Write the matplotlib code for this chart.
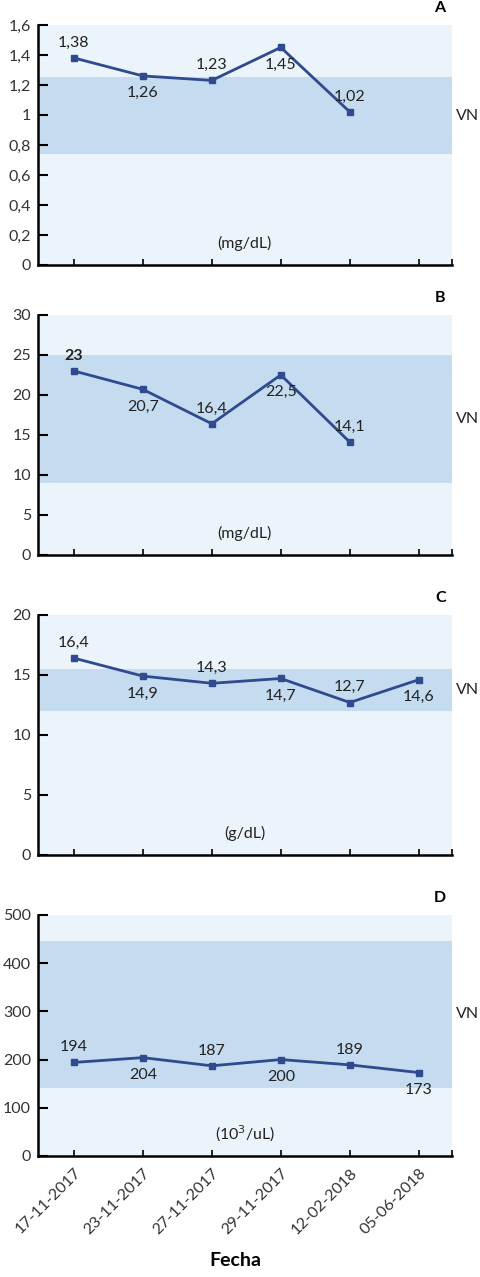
import matplotlib.pyplot as plt

plt.rcParams['font.family'] = ['Lato', 'DejaVu Sans']

fechas = ['17-11-2017', '23-11-2017', '27-11-2017', '29-11-2017', '12-02-2018', '05-06-2018']

# A
a_vals = [1.38, 1.26, 1.23, 1.45, 1.02]
a_lbls = ['1,38', '1,26', '1,23', '1,45', '1,02']
a_band = (0.74, 1.25)
a_ticks = [0, 0.2, 0.4, 0.6, 0.8, 1, 1.2, 1.4, 1.6]
a_tlbl = ['0', '0,2', '0,4', '0,6', '0,8', '1', '1,2', '1,4', '1,6']

# B
b_vals = [23, 20.7, 16.4, 22.5, 14.1]
b_lbls = ['23', '20,7', '16,4', '22,5', '14,1']
b_band = (9, 25)
b_ticks = [0, 5, 10, 15, 20, 25, 30]

# C
c_vals = [16.4, 14.9, 14.3, 14.7, 12.7, 14.6]
c_lbls = ['16,4', '14,9', '14,3', '14,7', '12,7', '14,6']
c_band = (12, 15.5)
c_ticks = [0, 5, 10, 15, 20]

# D
d_vals = [194, 204, 187, 200, 189, 173]
d_lbls = ['194', '204', '187', '200', '189', '173']
d_band = (142, 446)
d_ticks = [0, 100, 200, 300, 400, 500]

bg = '#ebf3fb'
band_c = '#c5dcf0'
line_c = '#2f4a8e'
txt = '#222222'
fs = 11.5

fig = plt.figure(figsize=(4.8, 12.77), dpi=100)

paneles = [
    ('A', a_vals, a_lbls, a_band, a_ticks, a_tlbl, '(mg/dL)', [0.7925, 0.188]),
    ('B', b_vals, b_lbls, b_band, b_ticks, [str(t) for t in b_ticks], '(mg/dL)', [0.5654, 0.188]),
    ('C', c_vals, c_lbls, c_band, c_ticks, [str(t) for t in c_ticks], '(g/dL)', [0.3305, 0.188]),
    ('D', d_vals, d_lbls, d_band, d_ticks, [str(t) for t in d_ticks], '(10$^3$/uL)', [0.0948, 0.1887]),
]

for letra, vals, lbls, band, ticks, tlbl, unidad, (y0, h) in paneles:
    ax = fig.add_axes([0.079, y0, 0.8625, h])
    ymax = ticks[-1]
    ax.set_facecolor(bg)
    ax.set_xlim(-0.52, 5.48)
    ax.set_ylim(0, ymax)
    ax.axhspan(band[0], band[1], color=band_c, lw=0, zorder=0)
    x = list(range(len(vals)))
    ax.plot(x, vals, color=line_c, lw=2, marker='s', ms=5, zorder=3)
    for i, (v, l) in enumerate(zip(vals, lbls)):
        dy = 11 if i % 2 == 0 else -12.5
        peso = 'bold' if (letra == 'B' and i == 0) else 'normal'
        ax.annotate(l, (i, v), xytext=(0, dy), textcoords='offset points',
                    ha='center', va='center', fontsize=fs, color=txt, fontweight=peso)
    for s in ['top', 'right']:
        ax.spines[s].set_visible(False)
    for s in ['left', 'bottom']:
        ax.spines[s].set_linewidth(1.8)
    ax.set_yticks(ticks)
    ax.set_yticklabels(tlbl, fontsize=fs, color='#333333')
    ax.tick_params(axis='y', direction='in', length=7, width=1.5, pad=5)
    ax.set_xticks(list(range(6)) + [5.48])
    if letra == 'D':
        ax.set_xticklabels(fechas + [''], rotation=45, ha='right', rotation_mode='anchor',
                           fontsize=fs, color='#333333')
    else:
        ax.set_xticklabels([''] * 7)
    ax.tick_params(axis='x', direction='in', length=4.5, width=1.2, pad=7)
    ax.text(0.5, 0.09, unidad, transform=ax.transAxes, ha='center', va='center',
            fontsize=fs, color=txt)
    ax.text(0.985, 1.04, letra, transform=ax.transAxes, ha='right', va='bottom',
            fontsize=fs, fontweight='bold', color='black')
    ax.text(1.01, (band[0] + band[1]) / 2, 'VN', transform=ax.get_yaxis_transform(),
            ha='left', va='center', fontsize=fs, color=txt, clip_on=False)

fig.text(0.49, 0.006, 'Fecha', ha='center', va='bottom', fontsize=14, fontweight='bold')

fig.savefig('out.png', dpi=100)
